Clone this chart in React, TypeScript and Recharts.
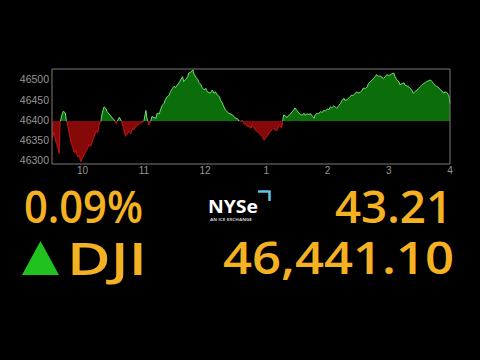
import { ComposedChart, Area, XAxis, YAxis, ReferenceArea } from 'recharts';

// minutes since 9:30 and DJIA price
const minutes = [
  0, 2, 4, 6, 7, 8, 10, 11, 13, 14, 15, 17, 19, 20, 22, 23, 25, 27, 28, 30,
  32, 33, 35, 36, 38, 40, 41, 43, 45, 46, 48, 49, 51, 53, 54, 56, 58, 59, 61, 63,
  64, 66, 68, 70, 72, 74, 76, 77, 79, 80, 82, 84, 87, 90, 92, 93, 95, 97, 98, 100,
  102, 103, 105, 107, 108, 110, 111, 113, 115, 116, 118, 120, 121, 123, 125, 126, 128, 129, 131, 133,
  134, 136, 138, 139, 141, 143, 144, 146, 147, 149, 151, 152, 154, 155, 157, 159, 160, 162, 164, 165,
  167, 168, 170, 172, 173, 175, 177, 178, 180, 182, 183, 185, 187, 188, 190, 191, 193, 195, 196, 198,
  199, 201, 203, 204, 206, 208, 209, 211, 212, 214, 216, 217, 219, 221, 222, 224, 225, 227, 229, 230,
  232, 233, 235, 237, 238, 240, 242, 243, 245, 247, 248, 250, 252, 253, 255, 257, 258, 260, 261, 263,
  265, 266, 268, 270, 271, 273, 274, 276, 278, 279, 281, 283, 284, 286, 287, 289, 291, 292, 294, 295,
  297, 299, 300, 302, 304, 305, 307, 309, 310, 312, 314, 315, 317, 318, 320, 322, 323, 325, 327, 328,
  330, 332, 333, 335, 336, 338, 340, 341, 343, 345, 346, 348, 350, 351, 353, 354, 356, 358, 359, 361,
  362, 364, 366, 367, 369, 371, 372, 374, 375, 377, 379, 380, 382, 384, 385, 387, 389, 390,
];
const prices = [
  46355, 46370, 46345, 46330, 46318, 46395, 46415, 46422, 46418, 46400, 46392, 46365, 46343, 46335, 46319, 46325, 46310, 46312, 46298, 46306,
  46318, 46323, 46330, 46339, 46336, 46351, 46358, 46372, 46370, 46388, 46398, 46415, 46433, 46428, 46421, 46415, 46409, 46405, 46401, 46391,
  46398, 46407, 46397, 46380, 46360, 46368, 46372, 46366, 46380, 46376, 46384, 46388, 46393, 46397, 46424, 46405, 46388, 46400, 46409, 46406,
  46405, 46417, 46415, 46430, 46436, 46442, 46450, 46458, 46462, 46470, 46478, 46484, 46480, 46487, 46494, 46499, 46507, 46495, 46500, 46507,
  46516, 46518, 46524, 46514, 46506, 46499, 46493, 46487, 46480, 46475, 46478, 46470, 46468, 46466, 46474, 46466, 46470, 46462, 46458, 46450,
  46442, 46435, 46425, 46420, 46417, 46415, 46413, 46409, 46405, 46403, 46398, 46397, 46398, 46392, 46388, 46386, 46384, 46380, 46388, 46382,
  46376, 46372, 46368, 46364, 46360, 46351, 46356, 46360, 46366, 46372, 46378, 46380, 46374, 46376, 46388, 46384, 46380, 46413, 46410, 46406,
  46412, 46413, 46420, 46425, 46430, 46424, 46417, 46415, 46412, 46417, 46412, 46416, 46413, 46417, 46410, 46405, 46414, 46417, 46415, 46421,
  46419, 46424, 46423, 46428, 46425, 46433, 46430, 46435, 46432, 46429, 46436, 46442, 46448, 46454, 46449, 46450, 46455, 46458, 46462, 46460,
  46466, 46470, 46467, 46468, 46474, 46479, 46478, 46482, 46490, 46495, 46499, 46503, 46508, 46512, 46508, 46509, 46505, 46503, 46508, 46512,
  46510, 46512, 46514, 46516, 46508, 46499, 46494, 46487, 46490, 46492, 46486, 46484, 46481, 46479, 46472, 46466, 46471, 46474, 46478, 46483,
  46486, 46490, 46493, 46495, 46497, 46499, 46496, 46490, 46486, 46483, 46480, 46476, 46472, 46466, 46470, 46468, 46460, 46441,
];

const hourTicks = [30, 90, 150, 210, 270, 330, 390];
const hourLabels = ['10', '11', '12', '1', '2', '3', '4'];
const priceTicks = [46300, 46350, 46400, 46450, 46500];
const prevClose = 46397.89;

const changePct = '0.09%';
const changePts = '43.21';
const indexName = 'DJI';
const lastPrice = '46,441.10';

const data = minutes.map((m, i) => ({ m, price: prices[i] }));
const hi = Math.max(...prices);
const lo = Math.min(...prices);
const split = (hi - prevClose) / (hi - lo);

const GOLD = '#f4b223';
const bigFont = '"Open Sans", sans-serif';

export default function App() {
  return (
    <div style={{ position: 'absolute', left: 0, top: 0, width: 480, height: 360, background: '#000', overflow: 'hidden' }}>
      <ComposedChart
        width={480}
        height={200}
        data={data}
        margin={{ top: 69, right: 30, left: 0, bottom: 6 }}
      >
        <defs>
          <linearGradient id="splitFill" x1="0" y1="0" x2="0" y2="1">
            <stop offset={split} stopColor="#0b6e0b" />
            <stop offset={split} stopColor="#860909" />
          </linearGradient>
          <linearGradient id="splitStroke" x1="0" y1="0" x2="0" y2="1">
            <stop offset={split} stopColor="#6fdc6f" />
            <stop offset={split} stopColor="#c41414" />
          </linearGradient>
        </defs>
        <XAxis
          type="number"
          dataKey="m"
          domain={[0, 390]}
          ticks={hourTicks}
          interval={0}
          tickFormatter={(v) => hourLabels[hourTicks.indexOf(v)]}
          axisLine={false}
          tickLine={false}
          tickSize={0}
          tickMargin={3}
          height={30}
          tick={{ fill: '#969696', fontSize: 10, fontFamily: '"Liberation Sans", sans-serif' }}
        />
        <YAxis
          domain={[46292, 46526]}
          ticks={priceTicks}
          allowDataOverflow
          width={52}
          axisLine={false}
          tickLine={false}
          tickSize={0}
          tickMargin={3}
          tick={{ fill: '#969696', fontSize: 10.5, fontFamily: '"Liberation Sans", sans-serif' }}
        />
        <Area
          type="linear"
          dataKey="price"
          baseValue={prevClose}
          stroke="url(#splitStroke)"
          strokeWidth={1}
          fill="url(#splitFill)"
          fillOpacity={1}
          dot={false}
          activeDot={false}
          isAnimationActive={false}
        />
        <ReferenceArea x1={0} x2={390} y1={46292} y2={46526} fill="none" stroke="#7a7a7a" strokeWidth={1} />
      </ComposedChart>

      {/* ticker panel below the chart */}
      <svg width={480} height={360} style={{ position: 'absolute', left: 0, top: 0, pointerEvents: 'none' }}>
        <text x={24} y={222.5} fill={GOLD} fontFamily={bigFont} fontWeight={600} fontSize={45} textLength={119} lengthAdjust="spacingAndGlyphs">
          {changePct}
        </text>
        <text x={335} y={222.5} fill={GOLD} fontFamily={bigFont} fontWeight={600} fontSize={45} textLength={117} lengthAdjust="spacingAndGlyphs">
          {changePts}
        </text>

        <polygon points="22,275 59,275 40.5,241" fill="#1fc21f" />
        <text x={67} y={274.5} fill={GOLD} fontFamily={bigFont} fontWeight={600} fontSize={46} textLength={80} lengthAdjust="spacingAndGlyphs">
          {indexName}
        </text>
        <text x={223} y={274} fill={GOLD} fontFamily={bigFont} fontWeight={600} fontSize={45} textLength={231} lengthAdjust="spacingAndGlyphs">
          {lastPrice}
        </text>

        <text x={208} y={213} fill="#fff" fontFamily={bigFont} fontWeight={700} fontSize={17} textLength={50} lengthAdjust="spacingAndGlyphs">
          NYSe
        </text>
        <path d="M258,191.5 H269.5 V201" fill="none" stroke="#5cc6e6" strokeWidth={2.5} />
        <text x={210} y={221} fill="#cfcfcf" fontFamily={bigFont} fontSize={3.6} fontWeight={700} textLength={42} lengthAdjust="spacingAndGlyphs">
          AN ICE EXCHANGE
        </text>
      </svg>
    </div>
  );
}
